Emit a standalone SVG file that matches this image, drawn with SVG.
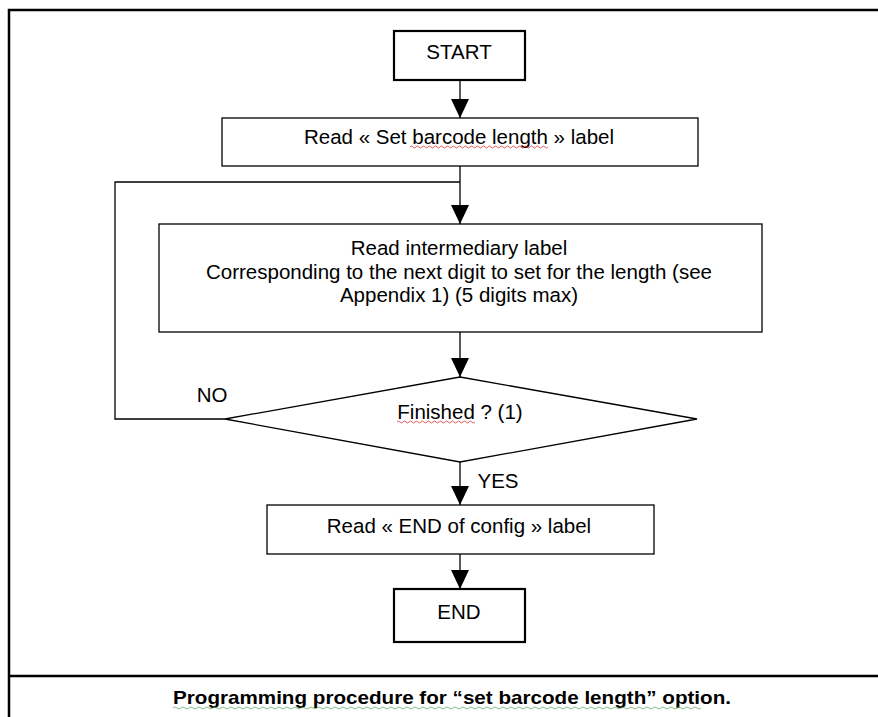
<svg xmlns="http://www.w3.org/2000/svg" width="878" height="717" viewBox="0 0 878 717">
<defs>
<marker id="ah" viewBox="0 0 18 19" refX="9" refY="19" markerWidth="18" markerHeight="19" markerUnits="userSpaceOnUse" orient="0">
<path d="M0,0 L18,0 L9,19 Z" fill="#000"/>
</marker>
<style>
.t{font-family:"Liberation Sans",Arial,sans-serif;font-size:20.5px;fill:#000;text-anchor:middle}
.b{fill:#fff;stroke:#000;stroke-width:1.3}
.bt{fill:#fff;stroke:#000;stroke-width:2.2}
.c{fill:none;stroke:#000;stroke-width:1.3}
.w{fill:none;stroke:#d33;stroke-width:0.8}
.wg{fill:none;stroke:#6a6;stroke-width:0.8}
</style>
</defs>
<rect width="878" height="717" fill="#fff"/>
<g id="frame">
<path d="M9,717 L9,10 L878,10" fill="none" stroke="#000" stroke-width="2.5"/>
<line x1="9" y1="676" x2="878" y2="676" stroke="#000" stroke-width="2.5"/>
<text x="452" y="704" class="t" style="font-weight:bold;font-size:19px" textLength="558" lengthAdjust="spacingAndGlyphs">Programming procedure for “set barcode length” option.</text>
<path class="wg" d="M173,708 q2,-2 4,0 t4,0 t4,0 t4,0 t4,0 t4,0 t4,0 t4,0 t4,0 t4,0 t4,0 t4,0 t4,0 t4,0 t4,0 t4,0 t4,0 t4,0 t4,0 t4,0 t4,0 t4,0 t4,0 t4,0 t4,0 t4,0 t4,0 t4,0 t4,0 t4,0 t4,0 t4,0 t4,0 t4,0 t4,0 t4,0 t4,0 t4,0 t4,0 t4,0 t4,0 t4,0 t4,0 t4,0 t4,0 t4,0 t4,0 t4,0 t4,0 t4,0 t4,0 t4,0 t4,0 t4,0 t4,0 t4,0 t4,0 t4,0 t4,0 t4,0 t4,0 t4,0 t4,0 t4,0 t4,0 t4,0 t4,0 t4,0 t4,0 t4,0 t4,0 t4,0 t4,0 t4,0 t4,0 t4,0 t4,0 t4,0 t4,0 t4,0 t4,0 t4,0 t4,0 t4,0 t4,0 t4,0 t4,0 t4,0 t4,0 t4,0 t4,0 t4,0 t4,0 t4,0 t4,0 t4,0 t4,0 t4,0 t4,0 t4,0 t4,0 t4,0 t4,0 t4,0 t4,0 t4,0 t4,0 t4,0 t4,0 t4,0 t4,0 t4,0 t4,0 t4,0 t4,0 t4,0 t4,0 t4,0 t4,0 t4,0 t4,0 t4,0 t4,0 t4,0 t4,0 t4,0 t4,0 t4,0 t4,0 t4,0 t4,0 t4,0"/>
</g>
<g id="connectors">
<line class="c" x1="460" y1="80" x2="460" y2="118" marker-end="url(#ah)"/>
<line class="c" x1="460" y1="166" x2="460" y2="224" marker-end="url(#ah)"/>
<line class="c" x1="460" y1="332" x2="460" y2="377" marker-end="url(#ah)"/>
<polyline class="c" points="225,419 115,419 115,182 460,182"/>
<line class="c" x1="460" y1="462" x2="460" y2="505" marker-end="url(#ah)"/>
<line class="c" x1="460" y1="554" x2="460" y2="589" marker-end="url(#ah)"/>
<text x="212" y="402" class="t">NO</text>
<text x="498" y="488" class="t">YES</text>
</g>
<g id="start">
<rect class="bt" x="394" y="31" width="131" height="49"/>
<text x="459" y="59" class="t">START</text>
</g>
<g id="read-set">
<rect class="b" x="222" y="118" width="476" height="48"/>
<text x="459" y="144" class="t">Read « Set barcode length » label</text>
<path class="w" d="M410,147 q1.5,-2 3,0 t3,0 t3,0 t3,0 t3,0 t3,0 t3,0 t3,0 t3,0 t3,0 t3,0 t3,0 t3,0 t3,0 t3,0 t3,0 t3,0 t3,0 t3,0 t3,0 t3,0 t3,0 t3,0 t3,0 t3,0 t3,0 t3,0 t3,0 t3,0 t3,0 t3,0 t3,0 t3,0 t3,0 t3,0 t3,0 t3,0 t3,0 t3,0 t3,0 t3,0 t3,0 t3,0 t3,0 t3,0 t3,0"/>
</g>
<g id="read-intermediary">
<rect class="b" x="159" y="224" width="603" height="108"/>
<text x="459" y="255" class="t">Read intermediary label</text>
<text x="459" y="279" class="t">Corresponding to the next digit to set for the length (see</text>
<text x="459" y="302" class="t">Appendix 1) (5 digits max)</text>
</g>
<g id="finished">
<polygon class="b" points="460,377 697,419 460,462 225,419"/>
<text x="460" y="419" class="t">Finished ? (1)</text>
<path class="w" d="M397,422 q1.5,-2 3,0 t3,0 t3,0 t3,0 t3,0 t3,0 t3,0 t3,0 t3,0 t3,0 t3,0 t3,0 t3,0 t3,0 t3,0 t3,0 t3,0 t3,0 t3,0 t3,0 t3,0 t3,0 t3,0 t3,0 t3,0 t3,0"/>
</g>
<g id="read-end">
<rect class="b" x="267" y="505" width="387" height="49"/>
<text x="459" y="533" class="t">Read « END of config » label</text>
</g>
<g id="end">
<rect class="bt" x="394" y="589" width="131" height="53"/>
<text x="459" y="619" class="t">END</text>
</g>
</svg>
